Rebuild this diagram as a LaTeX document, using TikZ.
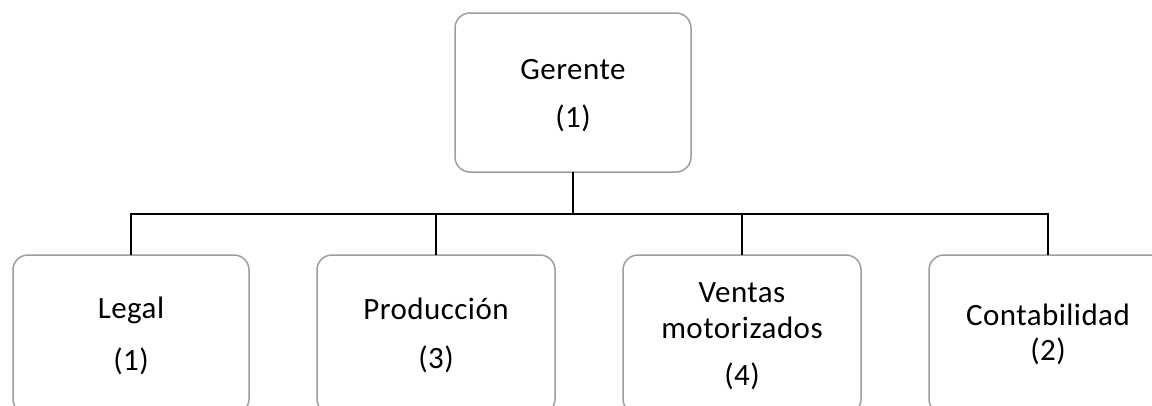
\documentclass[tikz,border=0pt]{standalone}
\usepackage{fontspec}
\setmainfont{Carlito}[LetterSpace=1.5]
\begin{document}
\begin{tikzpicture}[x=1pt,y=-1pt,
  unit/.style={draw=black!38,line width=1.5pt,rounded corners=15pt,inner sep=0pt,outer sep=0pt,
    minimum width=236pt,minimum height=159pt},
  lbl/.style={anchor=base,inner sep=0pt,font=\fontsize{31}{37}\selectfont},
  link/.style={draw=black,line width=2pt}]
\useasboundingbox (0,0) rectangle (1152,405);
\clip (0,0) rectangle (1152,405);
\fill[white] (0,0) rectangle (1152,405);
% boxes
\node[unit] (ger) at (573,92.5) {};
\node[unit] (leg) at (131,334.5) {};
\node[unit,minimum width=238pt] (pro) at (436,334.5) {};
\node[unit,minimum width=238pt] (ven) at (742,334.5) {};
\node[unit,minimum width=238pt] (con) at (1048,334.5) {};
% texts
\node[lbl] (t1) at (573,79) {Gerente};
\node[lbl] (t2) at (573,127) {(1)};
\node[lbl] (t3) at (131,318) {Legal};
\node[lbl] (t4) at (131,370) {(1)};
\node[lbl] (t5) at (436,319) {Producción};
\node[lbl] (t6) at (436,368) {(3)};
\node[lbl] (t7) at (742,302) {Ventas};
\node[lbl] (t8) at (742,338) {motorizados};
\node[lbl] (t9) at (742,385) {(4)};
\node[lbl] (t10) at (1048,325) {Contabilidad};
\node[lbl] (t11) at (1048,360) {(2)};
% connectors
\coordinate (bus) at (573,214);
\draw[link] (ger.south) -- (bus);
\draw[link] (leg.north) |- (bus) -| (con.north);
\draw[link] (pro.north) -- (pro.north |- bus);
\draw[link] (ven.north) -- (ven.north |- bus);
\end{tikzpicture}
\end{document}
